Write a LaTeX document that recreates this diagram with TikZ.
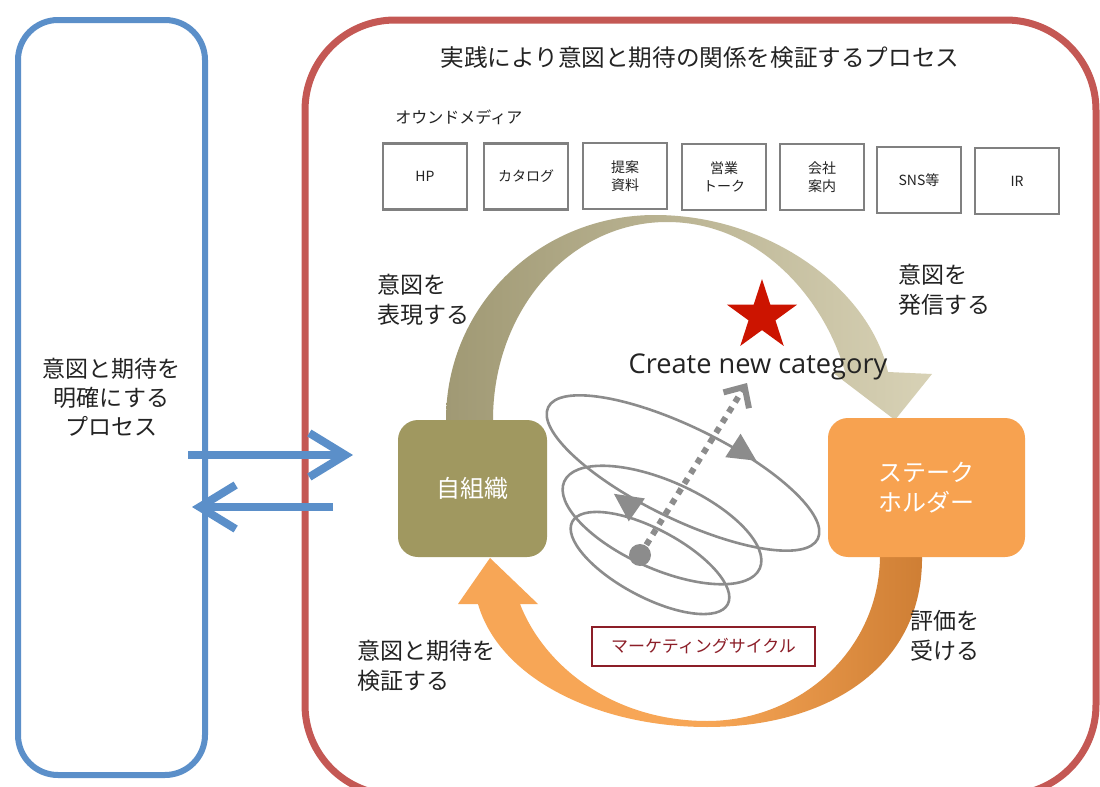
\documentclass[tikz,border=0pt]{standalone}
\usepackage{fontspec}
\setmainfont{Noto Sans CJK JP}
\newfontfamily\opensans{Open Sans}
\usetikzlibrary{arrows.meta,shapes.geometric}
\definecolor{bluefr}{RGB}{91,143,201}
\definecolor{redfr}{RGB}{196,88,84}
\definecolor{olive}{RGB}{160,152,96}
\definecolor{orangeN}{RGB}{247,162,80}
\definecolor{tanL}{RGB}{160,153,116}
\definecolor{tanR}{RGB}{216,210,182}
\definecolor{orA}{RGB}{247,166,86}
\definecolor{orB}{RGB}{206,126,52}
\definecolor{spgray}{RGB}{140,140,140}
\definecolor{starred}{RGB}{204,20,0}
\definecolor{maroon}{RGB}{140,30,40}
\definecolor{boxgray}{RGB}{128,128,128}
\definecolor{txt}{RGB}{35,35,35}
\begin{document}
\begin{tikzpicture}[x=0.5pt,y=-0.5pt,
  bigtxt/.style={font=\fontsize{11.5}{14.5}\selectfont, text=txt, align=center},
  lbl/.style={font=\fontsize{11.5}{15}\selectfont, text=txt, align=left, anchor=west, inner sep=0pt},
  mediabox/.style={draw=boxgray, line width=1.3pt, minimum width=42pt, minimum height=33pt, inner sep=0pt, font=\fontsize{7}{9}\selectfont, text=txt, align=center},
  actor/.style={rounded corners=10pt, text=white, font=\fontsize{12}{15}\selectfont, align=center, inner sep=0pt},
  bluearrow/.style={bluefr, line width=4pt, -{Straight Barb[length=18pt,width=22pt]}},
  spline/.style={spgray, line width=1.3pt},
  tri/.style={fill=spgray},
]
\useasboundingbox (0,0) rectangle (1100,787);
\fill[white] (0,0) rectangle (1100,787);

% frames
\node[draw=bluefr, line width=3pt, rounded corners=20pt, minimum width=93.5pt, minimum height=377.5pt, bigtxt] (clarify) at (111.5,397.5) {意図と期待を\\明確にする\\プロセス};
\node[draw=redfr, line width=3.5pt, rounded corners=45pt, minimum width=395.5pt, minimum height=387.5pt] (practice) at (700.5,407.5) {};
\node[font=\fontsize{11.8}{14}\selectfont, text=txt] (title) at (700,58) {実践により意図と期待の関係を検証するプロセス};

% owned media
\node[font=\fontsize{8}{10}\selectfont, text=txt, anchor=west, inner sep=0pt] (owned) at (395,117) {オウンドメディア};
\node[mediabox] (m1) at (425,176.5) {HP};
\node[mediabox] (m2) at (526,176.5) {カタログ};
\node[mediabox] (m3) at (625,176) {提案\\資料};
\node[mediabox] (m4) at (724,177) {営業\\トーク};
\node[mediabox] (m5) at (822,177) {会社\\案内};
\node[mediabox] (m6) at (919,180) {SNS等};
\node[mediabox] (m7) at (1017,181) {IR};

% top arc (express / transmit intent)
\shade[left color=tanL, right color=tanR]
 (446,420) .. controls (446,305) and (540,215) .. (655,215)
 .. controls (770,215) and (870,290) .. (888,372)
 -- (932,374) -- (895,420) -- (832,372) -- (845,372)
 .. controls (825,300) and (760,222) .. (667,222)
 .. controls (570,222) and (493,310) .. (493,420) -- cycle;

% bottom right arc
\shade[left color=orA, right color=orB]
 (880,555) -- (922,555) .. controls (924,665) and (830,727) .. (707,727)
 -- (707,721) .. controls (800,721) and (880,650) .. (880,555) -- cycle;

% bottom left arc
\fill[orA] (707,727) .. controls (600,727) and (500,680) .. (478,604)
 -- (458,604) -- (490,558) -- (538,604) -- (520,604)
 .. controls (545,668) and (615,721) .. (707,721) -- cycle;

% spiral
\draw[spline, rotate around={-26:(683,473)}] (683,473) ellipse [x radius=150, y radius=46];
\draw[spline, rotate around={-24:(662,525)}] (662,525) ellipse [x radius=107, y radius=44];
\draw[spline, rotate around={-28:(650,563)}] (650,563) ellipse [x radius=88, y radius=34];
\fill[tri, shift={(743,452)}, rotate=-33] (16,0) -- (-12,14) -- (-12,-14) -- cycle;
\fill[tri, shift={(627,503)}, rotate=145] (16,0) -- (-12,14) -- (-12,-14) -- cycle;
\node[circle, fill=spgray, inner sep=0pt, minimum size=11pt] (dot) at (640,555) {};
\coordinate (dtip) at (747,383);
\draw[spgray, line width=3pt, dash pattern=on 3pt off 3pt, -{Straight Barb[length=8pt,width=15pt]}] (dot.center) -- (dtip);

% star and caption
\node[star, star points=5, star point ratio=2.618, fill=starred, minimum size=37pt, inner sep=0pt] (star) at (762,316) {};
\node[font=\opensans\fontsize{13.6}{15}\selectfont, text=txt] (cnc) at (758,367) {Create new category};

% actors
\node[actor, fill=olive, minimum width=74.5pt, minimum height=68.5pt] (self) at (472.5,488.5) {自組織};
\node[actor, fill=orangeN, minimum width=98.5pt, minimum height=69.5pt] (stake) at (926.5,487.5) {ステーク\\ホルダー};

% labels
\node[lbl] (l1) at (377,300) {意図を\\表現する};
\node[lbl] (l2) at (898,290) {意図を\\発信する};
\node[lbl] (l3) at (910,636) {評価を\\受ける};
\node[lbl] (l4) at (357,666) {意図と期待を\\検証する};
\node[draw=maroon, line width=0.8pt, text=maroon, font=\fontsize{8.5}{10}\selectfont, minimum width=111.5pt, minimum height=19.5pt, inner sep=0pt] (mc) at (703.5,646.5) {マーケティングサイクル};

% blue arrows between processes
\coordinate (a1s) at (188,455);
\coordinate (a1e) at (353,455);
\coordinate (a2s) at (333,507);
\coordinate (a2e) at (192,507);
\draw[bluearrow] (a1s) -- (a1e);
\draw[bluearrow] (a2s) -- (a2e);
\end{tikzpicture}
\end{document}
